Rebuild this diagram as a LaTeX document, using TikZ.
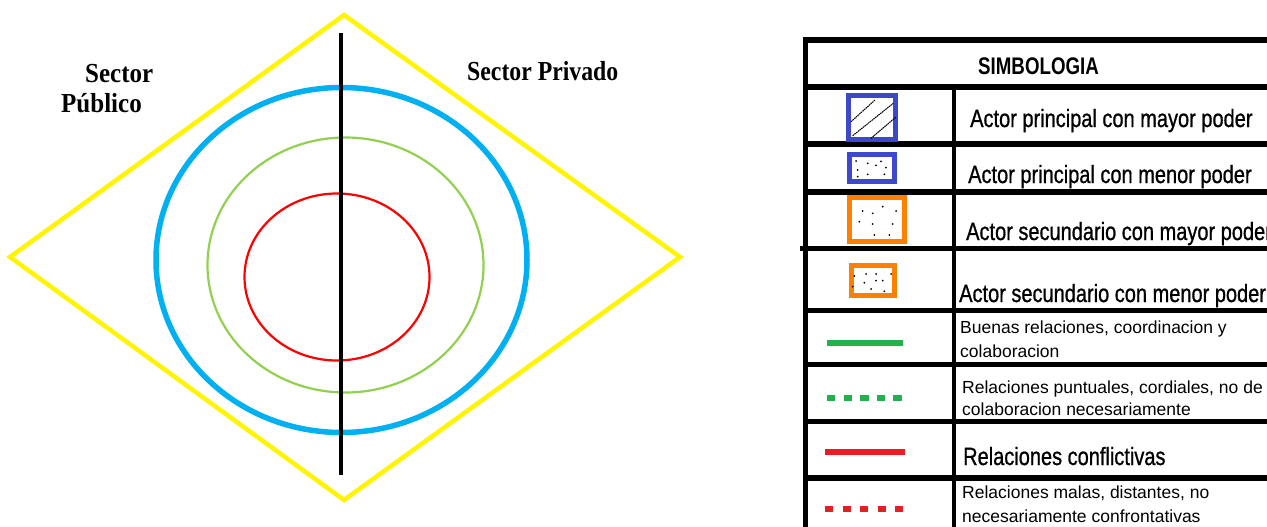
\documentclass[tikz,border=0pt]{standalone}
\usepackage{fontspec}
\setmainfont{Liberation Serif}
\newfontfamily\narrowf[FakeStretch=0.80,FakeBold=0.8]{Liberation Sans}
\newfontfamily\headf[FakeStretch=0.78]{Liberation Sans}
\newfontfamily\plainf{Liberation Sans}
\definecolor{dyellow}{RGB}{255,245,0}
\definecolor{dblue}{RGB}{0,176,240}
\definecolor{dgreen}{RGB}{146,208,80}
\definecolor{dred}{RGB}{255,0,0}
\definecolor{lgreen}{RGB}{34,177,76}
\definecolor{lred}{RGB}{237,28,36}
\definecolor{lblue}{RGB}{63,72,204}
\definecolor{lorange}{RGB}{255,128,0}
\begin{document}
\begin{tikzpicture}[x=1pt,y=-1pt,
  tline/.style={line width=5.5pt,black},
  vline/.style={line width=4.5pt,black},
  lbl/.style={inner sep=0pt,anchor=base west},
  sectorlbl/.style={lbl,font=\fontsize{25}{28}\selectfont\bfseries},
  bigtxt/.style={lbl,font=\narrowf\fontsize{25}{29}\selectfont},
  smalltxt/.style={lbl,font=\plainf\fontsize{17.5}{24}\selectfont,align=left},
  dotmark/.style={fill=black},
  legline/.style={line width=5.5pt}
]
\useasboundingbox (0,0) rectangle (1267,527);
% ---- left diagram
\draw[dyellow,line width=4.5pt,line join=miter] (344,15) -- (680,257) -- (344,500) -- (10,257) -- cycle;
\draw[dblue,line width=5.5pt] (341.5,260) ellipse [x radius=185.5, y radius=172.5];
\draw[dgreen,line width=2.2pt] (345.5,265) ellipse [x radius=138, y radius=127.5];
\draw[dred,line width=2.2pt] (337,277) ellipse [x radius=92.5, y radius=83.5];
\coordinate (ltop) at (341,33);
\coordinate (lbot) at (341,475);
\draw[black,line width=4.5pt] (ltop) -- (lbot);
\node[sectorlbl] (s1) at (85,83) {\scalebox{1}[1.1]{Sector}};
\node[sectorlbl] (s2) at (61,112) {\scalebox{1}[1.1]{Público}};
\node[sectorlbl] (s3) at (467,81) {\scalebox{0.95}[1.1]{Sector Privado}};
% ---- legend table
\draw[tline] (803,40) -- (1290,40);
\draw[tline] (803,87) -- (1290,87);
\draw[tline] (803,144) -- (1290,144);
\draw[tline] (803,192) -- (1290,192);
\draw[tline] (800,248.5) -- (1290,248.5);
\draw[tline] (803,310.5) -- (1290,310.5);
\draw[tline] (803,364.5) -- (1290,364.5);
\draw[tline] (803,421.5) -- (1290,421.5);
\draw[tline] (803,478) -- (1290,478);
\draw[vline] (805.5,37.3) -- (805.5,530);
\draw[line width=4pt] (954,87) -- (954,530);
\node[lbl,font=\headf\bfseries\fontsize{24}{28}\selectfont] (hd) at (978,75) {SIMBOLOGIA};
% row 1
\draw[lblue,line width=5pt] (848.5,96) rectangle (895.5,139);
\draw[black,line width=1pt,dash pattern=on 1.6pt off 0.6pt] (851,121.7) -- (875,100);
\draw[black,line width=1pt,dash pattern=on 1.6pt off 0.6pt] (852.7,135.7) -- (893.3,103.3);
\draw[black,line width=1pt,dash pattern=on 1.6pt off 0.6pt] (871,138.3) -- (895.7,117.3);
\node[bigtxt] (t1) at (970,127) {Actor principal con mayor poder};
% row 2
\draw[lblue,line width=5pt] (849.5,154.5) rectangle (894.5,181.5);
\foreach \p in {(856,161),(867.7,163.3),(876,165.3),(881,161.3),(886,167.7),(857.7,170),(857.7,176.7),(867.7,174.3),(884.3,174.3)}
  \fill[dotmark] \p circle (1pt);
\node[bigtxt] (t2) at (968,183) {Actor principal con menor poder};
% row 3
\draw[lorange,line width=5pt] (849.5,197.5) rectangle (904.5,241.5);
\foreach \p in {(862.7,211),(872.7,213.3),(882.7,206.7),(896,211),(859.3,221.7),(872.7,224),(892.7,224),(874.3,235),(889.3,235)}
  \fill[dotmark] \p circle (1pt);
\node[bigtxt] (t3) at (966,240) {Actor secundario con mayor poder};
% row 4
\draw[lorange,line width=5pt] (851.5,265.5) rectangle (894.5,295.5);
\foreach \p in {(854.3,276),(866,274),(876,274),(891,274),(864.3,282.7),(876,280.7),(882.7,280.7),(852.7,286.7),(871,289),(884.3,291.3)}
  \fill[dotmark] \p circle (1pt);
\node[bigtxt] (t4) at (959,302) {Actor secundario con menor poder};
% row 5
\coordinate (g1a) at (827,343);
\coordinate (g1b) at (903,343);
\draw[lgreen,legline] (g1a) -- (g1b);
\node[smalltxt] (t5) at (960,333) {Buenas relaciones, coordinacion y};
\node[smalltxt] (t5b) at (960,357) {colaboracion};
% row 6
\coordinate (g2a) at (827,398);
\coordinate (g2b) at (903,398);
\draw[lgreen,legline,dash pattern=on 8.3pt off 8.3pt] (g2a) -- (g2b);
\node[smalltxt] (t6) at (962,393) {Relaciones puntuales, cordiales, no de};
\node[smalltxt] (t6b) at (962,415) {colaboracion necesariamente};
% row 7
\coordinate (r1a) at (825,452);
\coordinate (r1b) at (905,452);
\draw[lred,legline] (r1a) -- (r1b);
\node[bigtxt] (t7) at (963,465) {Relaciones conflictivas};
% row 8
\coordinate (r2a) at (825,509);
\coordinate (r2b) at (903,509);
\draw[lred,legline,dash pattern=on 8pt off 9.5pt] (r2a) -- (r2b);
\node[smalltxt] (t8) at (962,498) {Relaciones malas, distantes, no};
\node[smalltxt] (t8b) at (962,522) {necesariamente confrontativas};
\end{tikzpicture}
\end{document}
